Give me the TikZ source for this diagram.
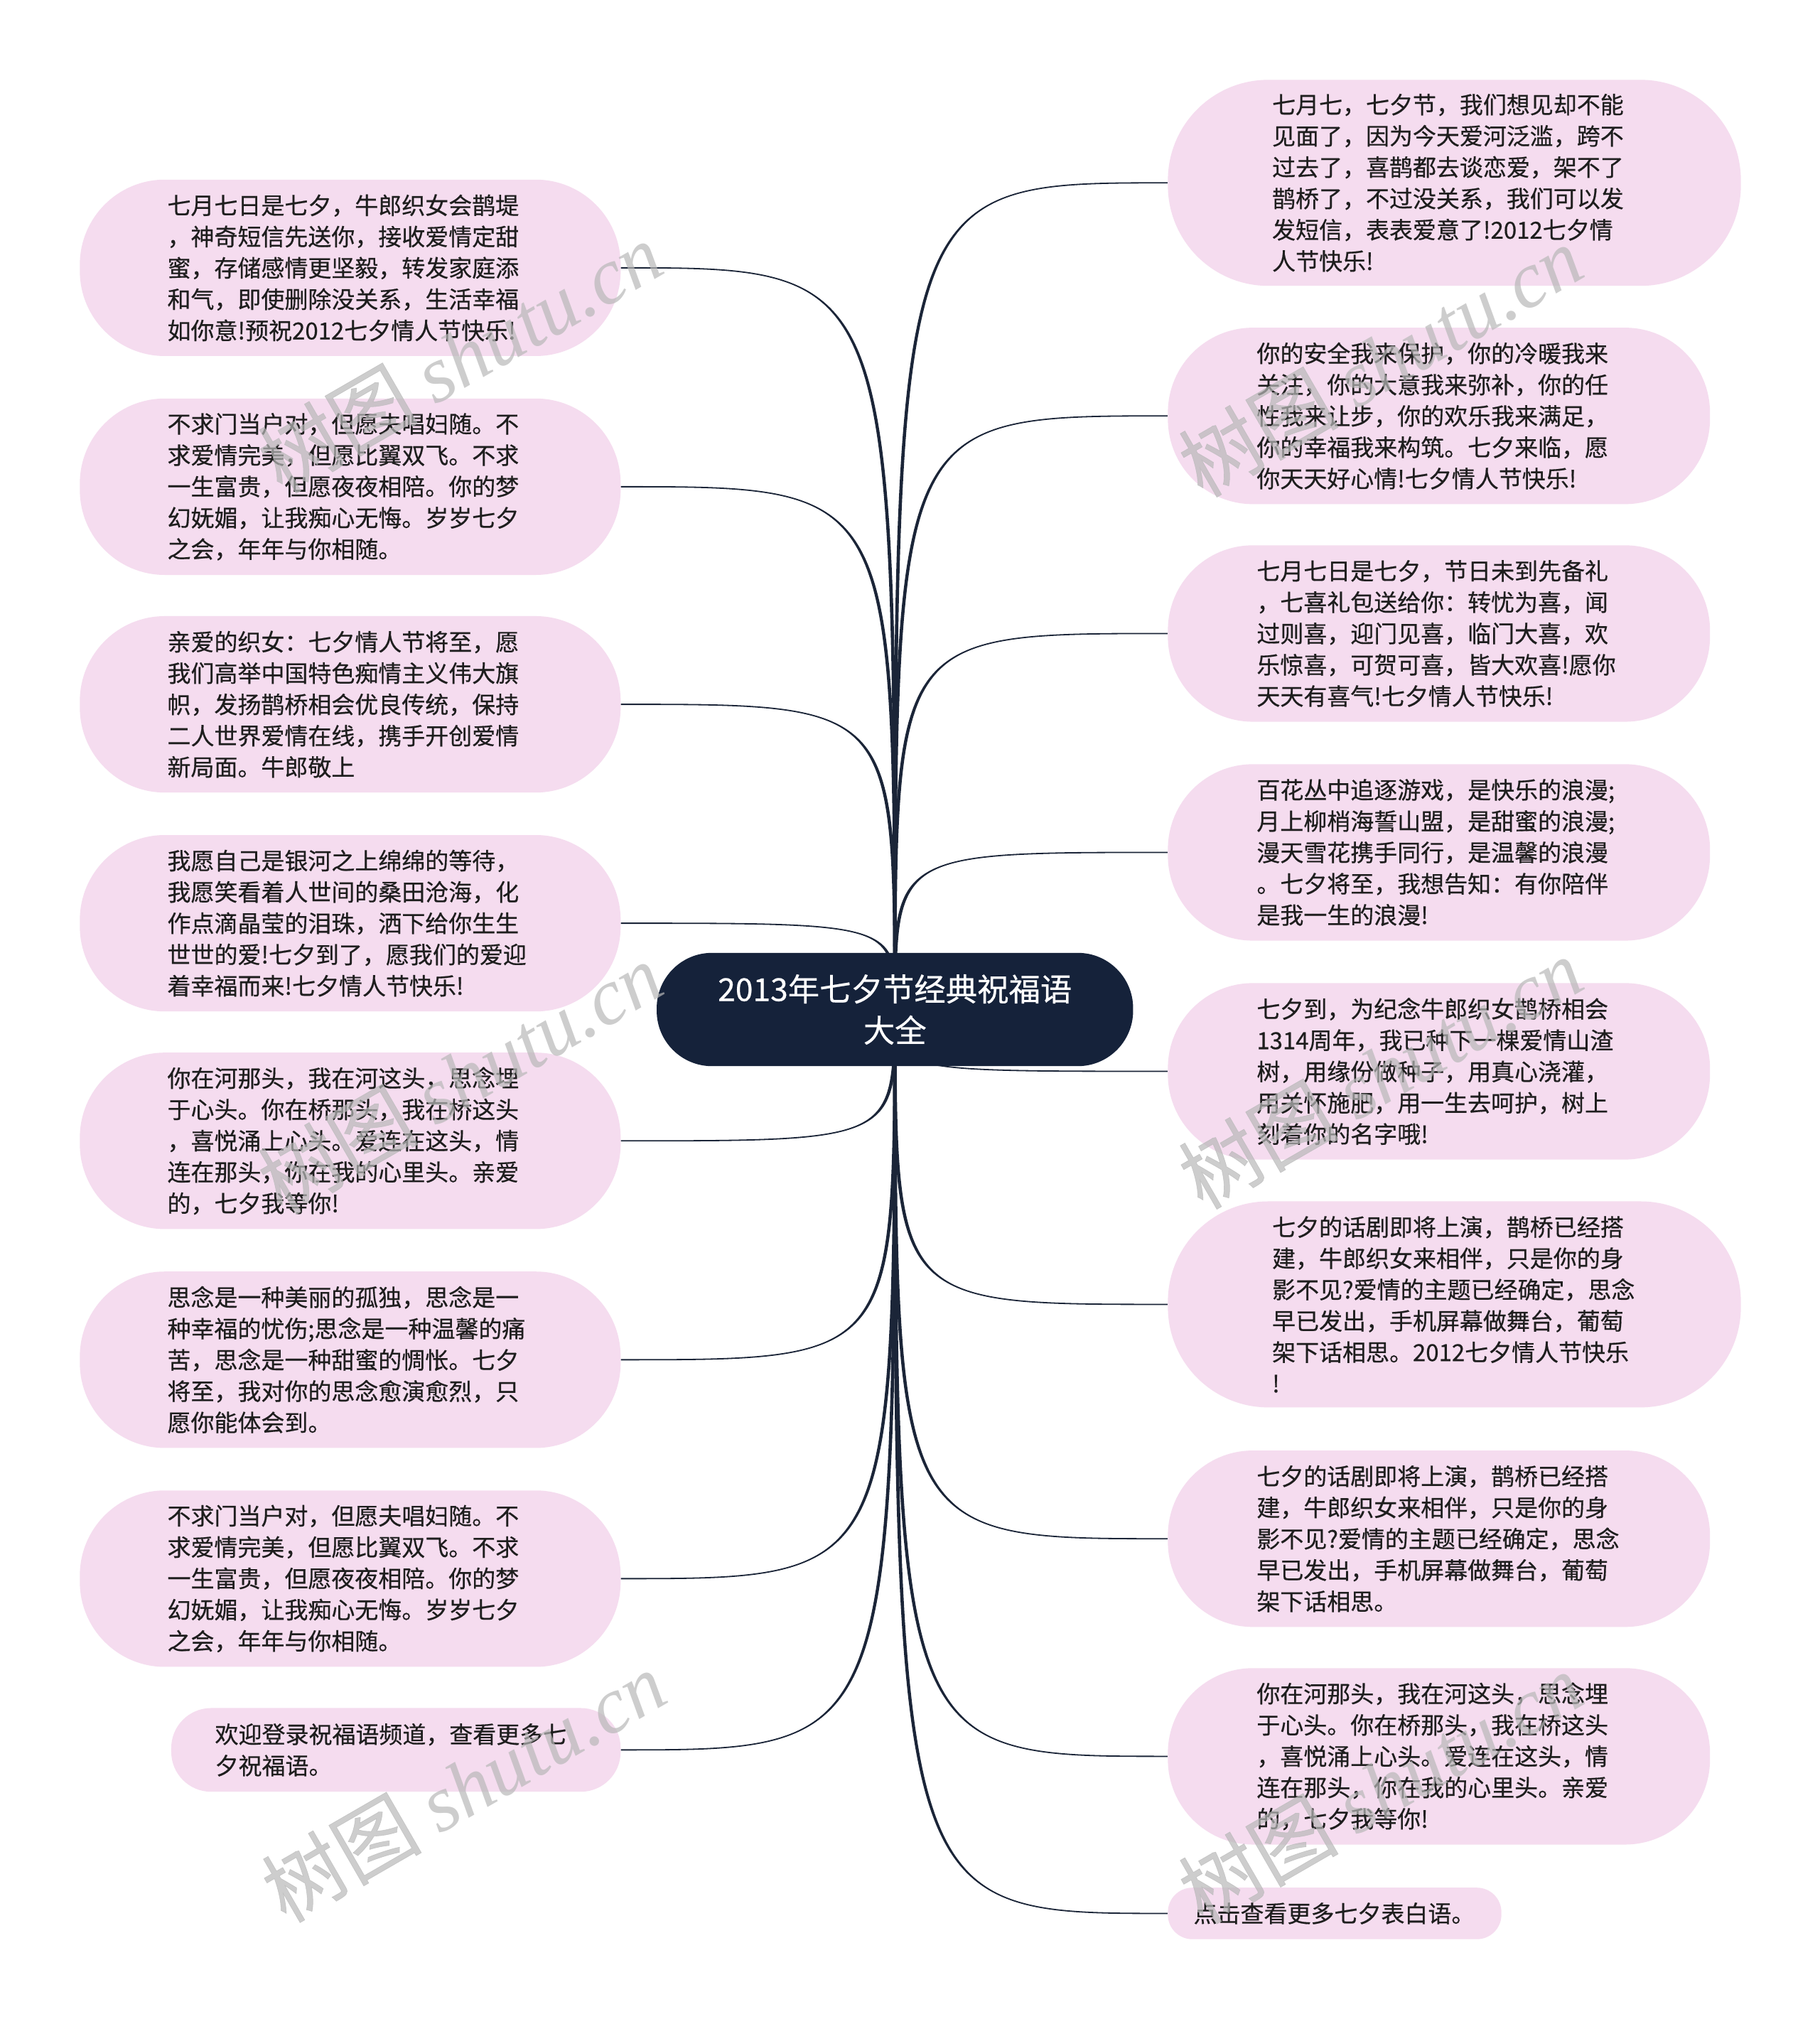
\documentclass[tikz,border=0pt]{standalone}
\usepackage{fontspec}
\setmainfont{Noto Sans CJK SC}[RawFeature={embolden=0.5}]
\newfontfamily\wmserif{Liberation Serif}
\usetikzlibrary{backgrounds}
\definecolor{pillpink}{HTML}{F5DCEF}
\definecolor{rootnavy}{HTML}{15223A}
\definecolor{linenavy}{HTML}{1B2538}
\definecolor{txtdark}{HTML}{1E1E1E}
\tikzset{
  pill/.style={rectangle, fill=pillpink, draw=none, inner sep=0pt},
  txt/.style={align=left, inner sep=0pt, text=txtdark, font=\fontsize{18.2pt}{24.3pt}\selectfont, anchor=west},
  rootbox/.style={rectangle, fill=rootnavy, draw=none, rounded corners=43pt, minimum width=370pt, minimum height=88pt, inner sep=0pt, align=center, text=white, font=\fontsize{24.5pt}{32pt}\selectfont},
  conn/.style={draw=linenavy, line width=1.0pt},
  taper/.style={fill=linenavy, draw=none},
  wmark/.style={text=black!28, opacity=0.7, rotate=30, inner sep=0pt, font=\fontsize{62pt}{62pt}\selectfont}
}
\begin{document}
\begin{tikzpicture}[x=1pt,y=-1pt]
\useasboundingbox (0,0) rectangle (1413,1568);

\node[rootbox] (root) at (695,784) {2013年七夕节经典祝福语\\大全};
\coordinate (rootL) at ([xshift=-1.3pt]root.center);
\coordinate (rootR) at ([xshift=1.3pt]root.center);

% left pills
\node[pill, rounded corners=66pt, minimum width=420pt, minimum height=137pt] (L1) at (272,208) {};
\node[pill, rounded corners=66pt, minimum width=420pt, minimum height=137pt] (L2) at (272,378) {};
\node[pill, rounded corners=66pt, minimum width=420pt, minimum height=137pt] (L3) at (272,547) {};
\node[pill, rounded corners=66pt, minimum width=420pt, minimum height=137pt] (L4) at (272,717) {};
\node[pill, rounded corners=66pt, minimum width=420pt, minimum height=137pt] (L5) at (272,886) {};
\node[pill, rounded corners=66pt, minimum width=420pt, minimum height=137pt] (L6) at (272,1056) {};
\node[pill, rounded corners=66pt, minimum width=420pt, minimum height=137pt] (L7) at (272,1226) {};
\node[pill, rounded corners=31pt, minimum width=349pt, minimum height=65pt] (L8) at (307.5,1359) {};

% right pills
\node[pill, rounded corners=78pt, minimum width=445pt, minimum height=160pt] (R1) at (1129.5,142) {};
\node[pill, rounded corners=66pt, minimum width=421pt, minimum height=137pt] (R2) at (1117.5,323) {};
\node[pill, rounded corners=66pt, minimum width=421pt, minimum height=137pt] (R3) at (1117.5,492) {};
\node[pill, rounded corners=66pt, minimum width=421pt, minimum height=137pt] (R4) at (1117.5,662) {};
\node[pill, rounded corners=66pt, minimum width=421pt, minimum height=137pt] (R5) at (1117.5,832) {};
\node[pill, rounded corners=78pt, minimum width=445pt, minimum height=160pt] (R6) at (1129.5,1013) {};
\node[pill, rounded corners=66pt, minimum width=421pt, minimum height=137pt] (R7) at (1117.5,1195) {};
\node[pill, rounded corners=66pt, minimum width=421pt, minimum height=137pt] (R8) at (1117.5,1364) {};
\node[pill, rounded corners=19pt, minimum width=259pt, minimum height=40pt] (R9) at (1036.5,1486) {};

% texts
\node[txt] (L1t) at ([xshift=68pt]L1.west) {七月七日是七夕，牛郎织女会鹊堤\\，神奇短信先送你，接收爱情定甜\\蜜，存储感情更坚毅，转发家庭添\\和气，即使删除没关系，生活幸福\\如你意!预祝2012七夕情人节快乐!};
\node[txt] (L2t) at ([xshift=68pt]L2.west) {不求门当户对，但愿夫唱妇随。不\\求爱情完美，但愿比翼双飞。不求\\一生富贵，但愿夜夜相陪。你的梦\\幻妩媚，让我痴心无悔。岁岁七夕\\之会，年年与你相随。};
\node[txt] (L3t) at ([xshift=68pt]L3.west) {亲爱的织女：七夕情人节将至，愿\\我们高举中国特色痴情主义伟大旗\\帜，发扬鹊桥相会优良传统，保持\\二人世界爱情在线，携手开创爱情\\新局面。牛郎敬上};
\node[txt] (L4t) at ([xshift=68pt]L4.west) {我愿自己是银河之上绵绵的等待，\\我愿笑看着人世间的桑田沧海，化\\作点滴晶莹的泪珠，洒下给你生生\\世世的爱!七夕到了，愿我们的爱迎\\着幸福而来!七夕情人节快乐!};
\node[txt] (L5t) at ([xshift=68pt]L5.west) {你在河那头，我在河这头，思念埋\\于心头。你在桥那头，我在桥这头\\，喜悦涌上心头。爱连在这头，情\\连在那头，你在我的心里头。亲爱\\的，七夕我等你!};
\node[txt] (L6t) at ([xshift=68pt]L6.west) {思念是一种美丽的孤独，思念是一\\种幸福的忧伤;思念是一种温馨的痛\\苦，思念是一种甜蜜的惆怅。七夕\\将至，我对你的思念愈演愈烈，只\\愿你能体会到。};
\node[txt] (L7t) at ([xshift=68pt]L7.west) {不求门当户对，但愿夫唱妇随。不\\求爱情完美，但愿比翼双飞。不求\\一生富贵，但愿夜夜相陪。你的梦\\幻妩媚，让我痴心无悔。岁岁七夕\\之会，年年与你相随。};
\node[txt] (L8t) at ([xshift=34pt]L8.west) {欢迎登录祝福语频道，查看更多七\\夕祝福语。};

\node[txt] (R1t) at ([xshift=81pt]R1.west) {七月七，七夕节，我们想见却不能\\见面了，因为今天爱河泛滥，跨不\\过去了，喜鹊都去谈恋爱，架不了\\鹊桥了，不过没关系，我们可以发\\发短信，表表爱意了!2012七夕情\\人节快乐!};
\node[txt] (R2t) at ([xshift=69pt]R2.west) {你的安全我来保护，你的冷暖我来\\关注，你的大意我来弥补，你的任\\性我来让步，你的欢乐我来满足，\\你的幸福我来构筑。七夕来临，愿\\你天天好心情!七夕情人节快乐!};
\node[txt] (R3t) at ([xshift=69pt]R3.west) {七月七日是七夕，节日未到先备礼\\，七喜礼包送给你：转忧为喜，闻\\过则喜，迎门见喜，临门大喜，欢\\乐惊喜，可贺可喜，皆大欢喜!愿你\\天天有喜气!七夕情人节快乐!};
\node[txt] (R4t) at ([xshift=69pt]R4.west) {百花丛中追逐游戏，是快乐的浪漫;\\月上柳梢海誓山盟，是甜蜜的浪漫;\\漫天雪花携手同行，是温馨的浪漫\\。七夕将至，我想告知：有你陪伴\\是我一生的浪漫!};
\node[txt] (R5t) at ([xshift=69pt]R5.west) {七夕到，为纪念牛郎织女鹊桥相会\\1314周年，我已种下一棵爱情山渣\\树，用缘份做种子，用真心浇灌，\\用关怀施肥，用一生去呵护，树上\\刻着你的名字哦!};
\node[txt] (R6t) at ([xshift=81pt]R6.west) {七夕的话剧即将上演，鹊桥已经搭\\建，牛郎织女来相伴，只是你的身\\影不见?爱情的主题已经确定，思念\\早已发出，手机屏幕做舞台，葡萄\\架下话相思。2012七夕情人节快乐\\!};
\node[txt] (R7t) at ([xshift=69pt]R7.west) {七夕的话剧即将上演，鹊桥已经搭\\建，牛郎织女来相伴，只是你的身\\影不见?爱情的主题已经确定，思念\\早已发出，手机屏幕做舞台，葡萄\\架下话相思。};
\node[txt] (R8t) at ([xshift=69pt]R8.west) {你在河那头，我在河这头，思念埋\\于心头。你在桥那头，我在桥这头\\，喜悦涌上心头。爱连在这头，情\\连在那头，你在我的心里头。亲爱\\的，七夕我等你!};
\node[txt] (R9t) at ([xshift=20pt]R9.west) {点击查看更多七夕表白语。};

% connectors (tapered: wide at the root, thin at the child)
\begin{scope}[on background layer]
\fill[white] (0,0) rectangle (1413,1568);
\foreach \n in {L1,L2,L3,L4,L5,L6,L7,L8}{
  \fill[taper] (rootL) .. controls (rootL |- \n.east) .. (\n.east)
    .. controls (rootR |- \n.east) .. (rootR) -- cycle;
  \draw[conn] (root.center) .. controls (root.center |- \n.east) .. (\n.east);
}
\foreach \n in {R1,R2,R3,R4,R5,R6,R7,R8,R9}{
  \fill[taper] (rootL) .. controls (rootL |- \n.west) .. (\n.west)
    .. controls (rootR |- \n.west) .. (rootR) -- cycle;
  \draw[conn] (root.center) .. controls (root.center |- \n.west) .. (\n.west);
}
\end{scope}

% watermarks
\node[wmark] (w1) at (357,277) {树图 {\wmserif\itshape shutu.cn}};
\node[wmark] (w2) at (357,837) {树图 {\wmserif\itshape shutu.cn}};
\node[wmark] (w3) at (360,1387) {树图 {\wmserif\itshape shutu.cn}};
\node[wmark] (w4) at (1072,280) {树图 {\wmserif\itshape shutu.cn}};
\node[wmark] (w5) at (1072,833) {树图 {\wmserif\itshape shutu.cn}};
\node[wmark] (w6) at (1072,1388) {树图 {\wmserif\itshape shutu.cn}};
\end{tikzpicture}
\end{document}
